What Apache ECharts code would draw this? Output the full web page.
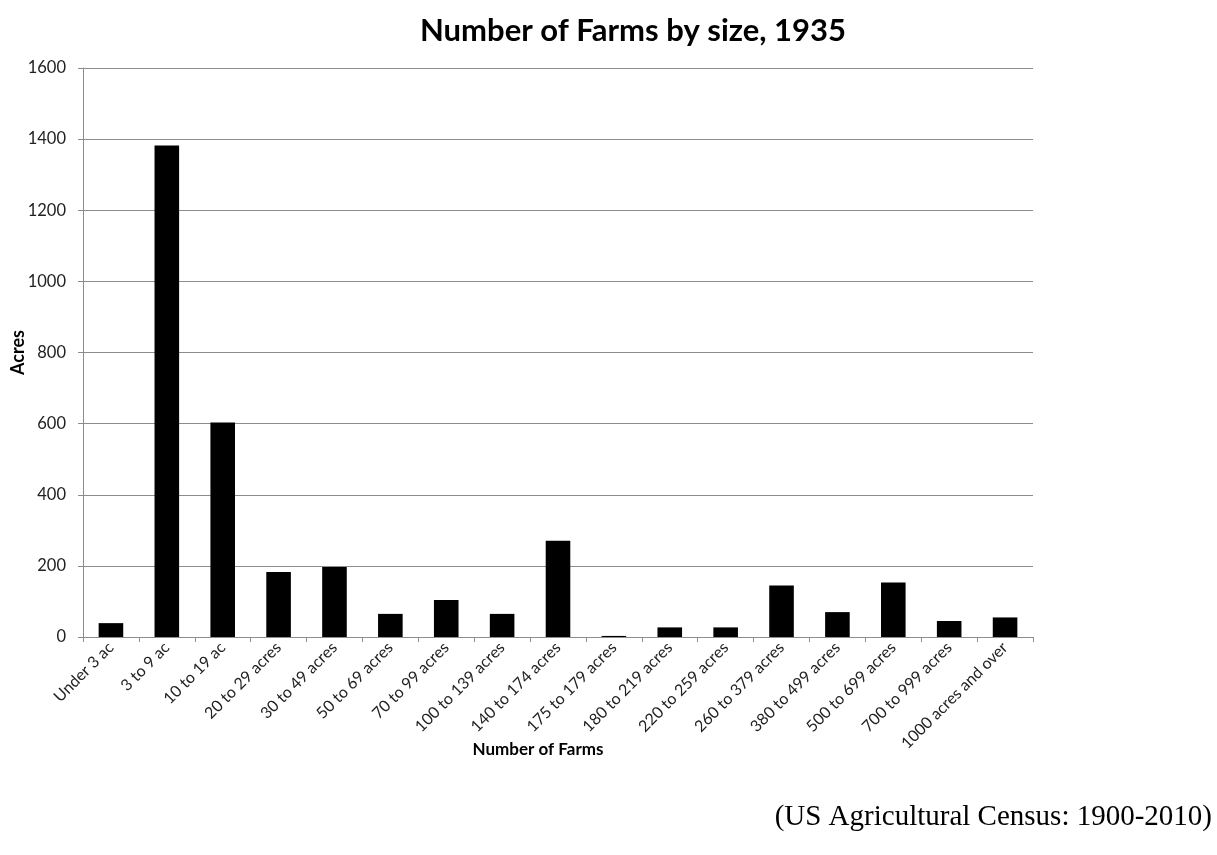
<!DOCTYPE html>
<html>
<head>
<meta charset="utf-8">
<script src="https://cdn.jsdelivr.net/npm/echarts@6/dist/echarts.min.js"></script>
<style>
html,body{margin:0;padding:0;background:#fff;}
#chart{width:1217px;height:855px;}
</style>
</head>
<body>
<div id="chart"></div>
<script>
const categories = ["Under 3 ac","3 to 9 ac","10 to 19 ac","20 to 29 acres","30 to 49 acres","50 to 69 acres","70 to 99 acres","100 to 139 acres","140 to 174 acres","175 to 179 acres","180 to 219 acres","220 to 259 acres","260 to 379 acres","380 to 499 acres","500 to 699 acres","700 to 999 acres","1000 acres and over"];
const farmValues = [39, 1382, 603, 183, 197, 65, 104, 65, 271, 3, 27, 27, 145, 70, 153, 45, 55];
const yTicks = {min: 0, max: 1600, interval: 200};

const chart = echarts.init(document.getElementById('chart'));
chart.setOption({
  animation: false,
  backgroundColor: '#fff',
  title: {
    text: 'Number of Farms by size, 1935',
    left: 628, top: 10, textAlign: 'center',
    textStyle: {fontFamily: 'Lato', fontWeight: 'bold', fontSize: 31, color: '#000'}
  },
  graphic: [{
    type: 'text', right: 5, top: 803,
    style: {text: '(US Agricultural Census: 1900-2010)', font: '29px "Liberation Serif"', fill: '#000'}
  }],
  grid: {left: 83, right: 184, top: 68, bottom: 218, outerBoundsMode: 'none', containLabel: false},
  xAxis: {
    type: 'category', data: categories,
    name: 'Number of Farms', nameLocation: 'middle', nameGap: 104, nameMoveOverlap: false,
    nameTextStyle: {fontFamily: 'Lato', fontWeight: 'bold', fontSize: 17, color: '#000', padding: [0, 40, 0, 0]},
    axisLine: {lineStyle: {color: '#8c8c8c', width: 1}},
    axisTick: {show: true, alignWithLabel: false, length: 5, lineStyle: {color: '#8c8c8c'}},
    axisLabel: {rotate: 45, interval: 0, fontFamily: 'Lato', fontSize: 16, color: '#222', margin: 8}
  },
  yAxis: {
    type: 'value', min: yTicks.min, max: yTicks.max, interval: yTicks.interval,
    name: 'Acres', nameLocation: 'middle', nameGap: 56, nameRotate: 90, nameMoveOverlap: false,
    nameTextStyle: {fontFamily: 'Lato', fontWeight: 'bold', fontSize: 18, color: '#000'},
    axisLine: {show: true, lineStyle: {color: '#8c8c8c', width: 1}},
    axisTick: {show: true, length: 5, lineStyle: {color: '#8c8c8c'}},
    axisLabel: {fontFamily: 'Lato', fontSize: 16.5, color: '#222', margin: 17, formatter: v => String(v)},
    splitLine: {lineStyle: {color: '#8c8c8c', width: 1}}
  },
  series: [{
    type: 'bar', data: farmValues, barWidth: '44%',
    itemStyle: {color: '#000'}
  }]
});
</script>
</body>
</html>
